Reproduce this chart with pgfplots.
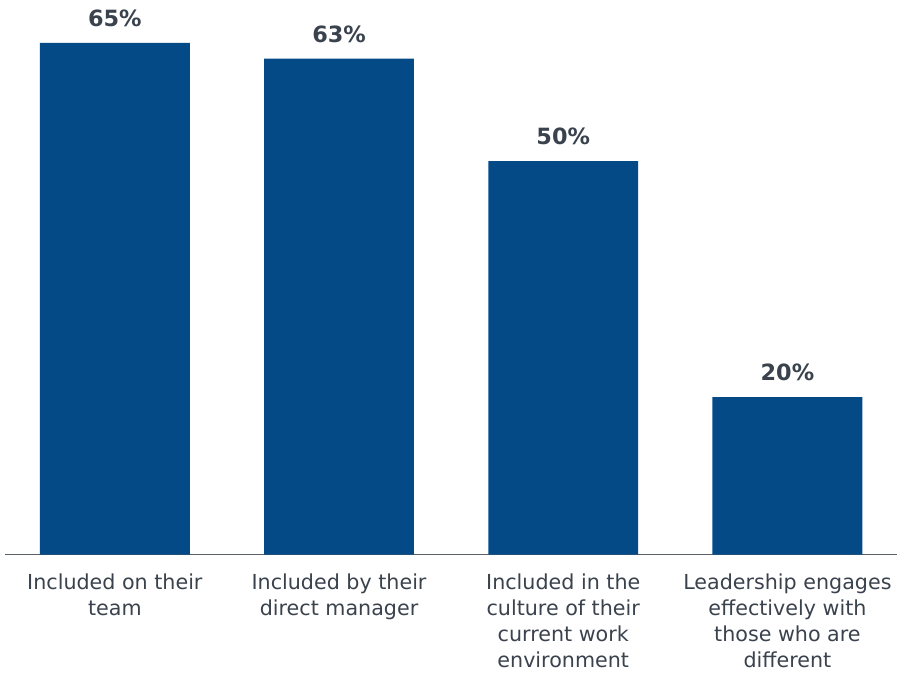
\documentclass[border=0pt]{standalone}
\usepackage{pgfplots}
\pgfplotsset{compat=1.18}
\usepackage{fontspec}
\setmainfont{DejaVu Sans}
\definecolor{barblue}{HTML}{034A87}
\definecolor{txt}{HTML}{3A424D}
\definecolor{axl}{HTML}{5A6068}
\begin{document}
\begin{tikzpicture}
\begin{axis}[
  at={(0,0)}, anchor=south west,
  scale only axis,
  width=669.75pt, height=416.25pt,
  xmin=-0.49, xmax=3.49,
  ymin=0, ymax=70.46,
  ybar, bar width=112.5pt,
  hide y axis,
  axis x line*=bottom,
  x axis line style={draw=axl, line width=1.1pt, -},
  xtick=data,
  major tick length=0pt,
  /pgf/number format/assume math mode=true,
  xticklabels={{Included on their\\team},{Included by their\\direct manager},{Included in the\\culture of their\\current work\\environment},{Leadership engages\\effectively with\\those who are\\different}},
  xticklabel style={anchor=north, inner sep=0pt, yshift=-14pt, align=center, text=txt, font=\fontsize{15.5}{19.5}\selectfont},
  nodes near coords={\pgfmathprintnumber[assume math mode=true]{\pgfplotspointmeta}\%},
  every node near coord/.append style={anchor=south, inner sep=0pt, yshift=12pt, text=txt, font=\fontsize{16.8}{19}\selectfont\bfseries},
  clip=false,
]
\addplot[fill=barblue, draw=none] coordinates {(0,65) (1,63) (2,50) (3,20)};
\end{axis}
\path[use as bounding box] (-3.75pt,-90pt) rectangle (669.75pt,416.25pt);
\end{tikzpicture}
\end{document}
